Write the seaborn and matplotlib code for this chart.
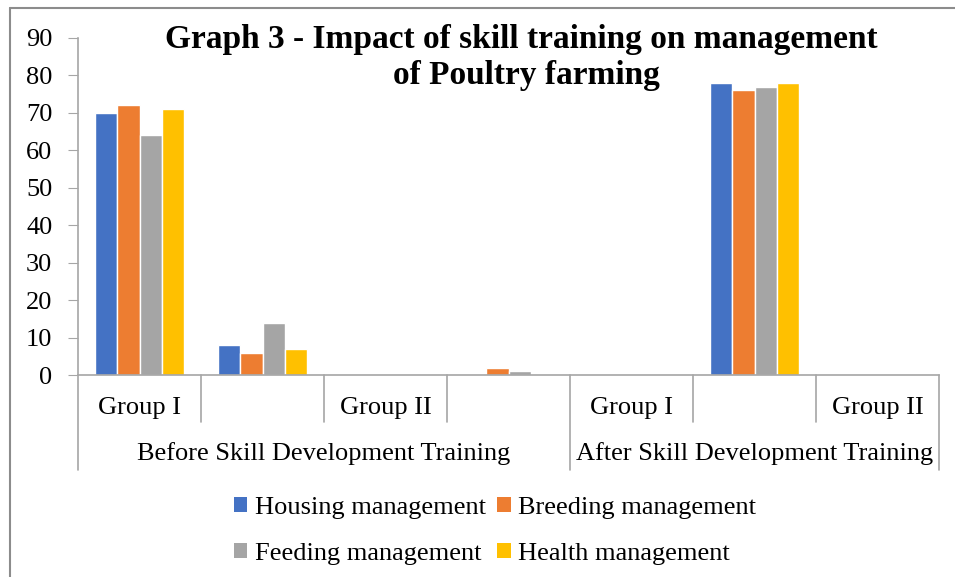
import numpy as np
import pandas as pd
import matplotlib
matplotlib.use("Agg")
import matplotlib.pyplot as plt
from matplotlib.lines import Line2D
from matplotlib.patches import Patch
import matplotlib.transforms as mtransforms
import seaborn as sns

# data
slots = ['s1', 's2', 's3', 's4', 's5', 's6', 's7']
slot_labels = ['Group I', '', 'Group II', '', 'Group I', '', 'Group II']
phases = ['Before Skill Development Training', 'After Skill Development Training']
phase_span = [(0, 4), (4, 7)]

series = ['Housing management', 'Breeding management', 'Feeding management', 'Health management']
housing = [70, 8, 0, 0, 0, 78, 0]
breeding = [72, 6, 0, 2, 0, 76, 0]
feeding = [64, 14, 0, 1, 0, 77, 0]
health = [71, 7, 0, 0, 0, 78, 0]

colors = ['#4472C4', '#ED7D31', '#A5A5A5', '#FFC000']
palette = dict(zip(series, colors))

rows = []
for name, vals in zip(series, [housing, breeding, feeding, health]):
    for s, v in zip(slots, vals):
        rows.append({'slot': s, 'series': name, 'value': v})
df = pd.DataFrame(rows)

sns.set_style('white')
plt.rcParams['font.family'] = ['Liberation Serif', 'DejaVu Serif']
plt.rcParams['text.color'] = 'black'

fs = 19
fig = plt.figure(figsize=(9.55, 5.77), dpi=100)
ax = fig.add_axes([78 / 955, 1 - 375 / 577, (939 - 78) / 955, (375 - 38) / 577])

sns.barplot(data=df, x='slot', y='value', hue='series', order=slots, hue_order=series,
            palette=palette, width=0.72, gap=0, saturation=1, ax=ax, legend=False)

ax.set_ylim(0, 90)
ax.set_xlim(-0.5, len(slots) - 0.5)
ax.set_yticks(range(0, 91, 10))
ax.tick_params(axis='y', labelsize=fs, length=7.5, color='#a6a6a6', labelcolor='black',
               left=True, pad=11)
ax.set_xticks([])
ax.set_xlabel('')
ax.set_ylabel('')
for side in ['top', 'right']:
    ax.spines[side].set_visible(False)
for side in ['left', 'bottom']:
    ax.spines[side].set_color('#a6a6a6')
    ax.spines[side].set_linewidth(1.2)

# multi-level category axis
trans = mtransforms.blended_transform_factory(ax.transData, fig.transFigure)
y_axis = 1 - 375 / 577
y_small = 1 - 422 / 577
y_big = 1 - 470 / 577
for i in range(1, len(slots)):
    bottom = y_big if any(i == a for a, b in phase_span) else y_small
    fig.add_artist(Line2D([i - 0.5, i - 0.5], [y_axis, bottom], transform=trans,
                          color='#a6a6a6', lw=1.2))
for x in [-0.5, len(slots) - 0.5]:
    fig.add_artist(Line2D([x, x], [y_axis, y_big], transform=trans, color='#a6a6a6', lw=1.2))

for i, lab in enumerate(slot_labels):
    fig.text(i, 1 - 408 / 577, lab, transform=trans, ha='center', va='center', fontsize=fs)
for lab, (a, b) in zip(phases, phase_span):
    fig.text((a + b - 1) / 2, 1 - 454 / 577, lab, transform=trans, ha='center', va='center',
             fontsize=fs)

fig.text(521 / 955, 1 - 48 / 577, 'Graph 3 - Impact of skill training on management',
         ha='center', va='baseline', fontsize=24, fontweight='bold')
fig.text(526 / 955, 1 - 84 / 577, 'of Poultry farming',
         ha='center', va='baseline', fontsize=24, fontweight='bold')

# legend fills column-wise, so order handles to read row by row
order = [0, 2, 1, 3]
handles = [Patch(facecolor=colors[k], edgecolor='none') for k in order]
labels = [series[k] for k in order]
fig.legend(handles, labels, loc='center', bbox_to_anchor=(495 / 955, 1 - 531 / 577), ncol=2,
           frameon=False, fontsize=fs, handlelength=0.52, handleheight=0.52,
           handletextpad=0.3, columnspacing=0.4, labelspacing=0.9)

# outer chart border
fig.add_artist(Line2D([10 / 955, 1], [1 - 8 / 577, 1 - 8 / 577], transform=fig.transFigure,
                      color='#8c8c8c', lw=1.5))
fig.add_artist(Line2D([10 / 955, 10 / 955], [0, 1 - 8 / 577], transform=fig.transFigure,
                      color='#8c8c8c', lw=1.5))

fig.savefig('out.png', dpi=100, facecolor='white')
